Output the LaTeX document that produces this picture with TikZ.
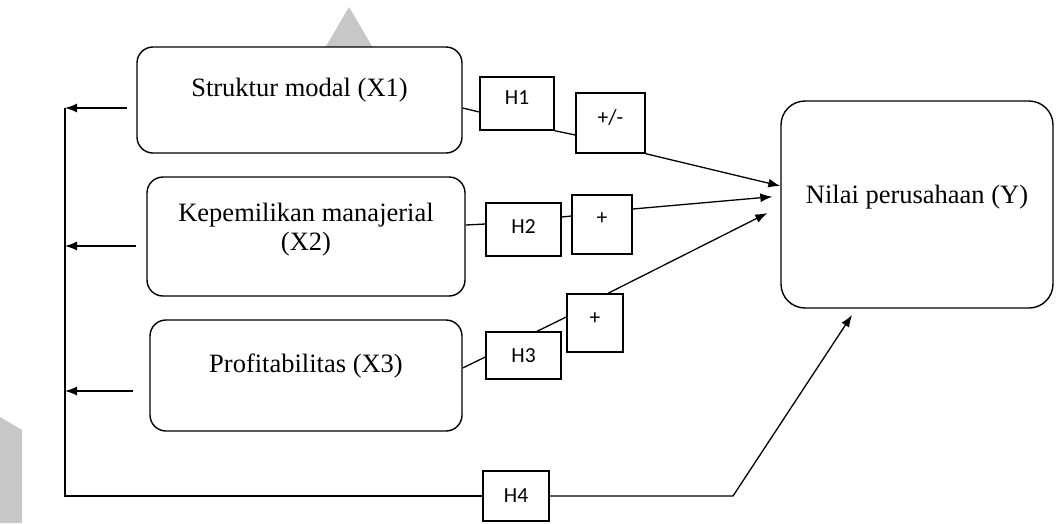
\documentclass[tikz,border=0pt]{standalone}
\usepackage{fontspec}
\setmainfont{Liberation Serif}
\newfontfamily\labelfont{Carlito}
\usetikzlibrary{arrows.meta,positioning}

\begin{document}
\begin{tikzpicture}
	[ x=1pt, y=-1pt,
		varbox/.style={rectangle,rounded corners=16pt,draw,line width=1.4pt,fill=white,inner sep=0pt,align=center,font=\fontsize{26.5}{29}\selectfont},
		resultbox/.style={varbox,rounded corners=24pt},
		hypo/.style={rectangle,draw,line width=1.4pt,fill=white,inner sep=0pt,font=\labelfont\fontsize{21.5}{24}\selectfont},
		link/.style={line width=1.3pt},
		arrowOut/.style={-{Latex[length=12pt,width=9pt]},line width=1.3pt},
		watermark/.style={fill=black!22,draw=none}]

	\useasboundingbox (0,0) rectangle (1057,523);
	% faint marks of the scan
	\fill[watermark] (349,7) -- (373,48) -- (325,48) -- cycle;
	\fill[watermark] (0,417) -- (22,430) -- (22,523) -- (0,523) -- cycle;

	\node[varbox,minimum width=325pt,minimum height=106pt,text depth=26pt] (x1) at (299.5,100) {Struktur modal (X1)};
	\node[varbox,minimum width=318pt,minimum height=119pt,text depth=20pt] (x2) at (306,236.5) {Kepemilikan manajerial\\(X2)};
	\node[varbox,minimum width=312pt,minimum height=111pt,text depth=24pt] (x3) at (306,375.5) {Profitabilitas (X3)};
	\node[resultbox,minimum width=272pt,minimum height=207pt,text depth=20pt] (y) at (917,204.5) {Nilai perusahaan (Y)};

	\node[hypo,minimum width=74pt,minimum height=53pt,text depth=11pt] (h1) at (517,103.5) {H1};
	\node[hypo,minimum width=69pt,minimum height=60pt,text depth=12pt] (pm1) at (610.5,123) {+/-};
	\node[hypo,minimum width=75pt,minimum height=53pt,text depth=6pt] (h2) at (523.5,229.5) {H2};
	\node[hypo,minimum width=60pt,minimum height=59pt,text depth=11pt] (p2) at (602,224.5) {+};
	\node[hypo,minimum width=75pt,minimum height=47pt] (h3) at (523.5,355.5) {H3};
	\node[hypo,minimum width=56pt,minimum height=58pt,text depth=8pt] (p3) at (595,323) {+};
	\node[hypo,minimum width=66pt,minimum height=50pt] (h4) at (516,496) {H4};

	\coordinate (s1) at (65,108);
	\coordinate (s2) at (65,246);
	\coordinate (s3) at (65,391);
	\coordinate (corner) at (65,496);
	\coordinate (bend) at (733,496);
	\coordinate (ytip) at (852,315);

	\draw[link] ([yshift=-8pt]x1.east) -- ([yshift=-8.5pt]h1.west);
	\draw[link] (h1.south east) -- ([yshift=-12pt]pm1.west);
	\draw[arrowOut] (pm1.south east) -- ([yshift=18.5pt]y.west);
	\draw[link] ([yshift=11.5pt]x2.east) -- ([yshift=5.5pt]h2.west);
	\draw[link] ([yshift=12.5pt]h2.east) -- ([yshift=8.5pt]p2.west);
	\draw[arrowOut,shorten >=8pt] ([yshift=15.5pt]p2.east) -- ([yshift=8.5pt]y.west);
	\draw[link] ([yshift=7.5pt]x3.east) -- ([yshift=-1.5pt]h3.west);
	\draw[link] ([xshift=13.5pt]h3.north) -- ([yshift=6pt]p3.west);
	\draw[arrowOut,shorten >=14.6pt] ([xshift=13pt]p3.north) -- ([yshift=-2pt]y.west);
	\draw[arrowOut] (h4.east) -- (bend) -- (ytip);

	\draw[arrowOut,shorten <=9pt] ([yshift=-8pt]x1.west) -- (s1);
	\draw[arrowOut,shorten <=10pt] ([yshift=-9.5pt]x2.west) -- (s2);
	\draw[arrowOut,shorten <=16pt] ([yshift=-15.5pt]x3.west) -- (s3);
	\draw[link] (s1) -- (corner) -- (h4.west);
\end{tikzpicture}
\end{document}
